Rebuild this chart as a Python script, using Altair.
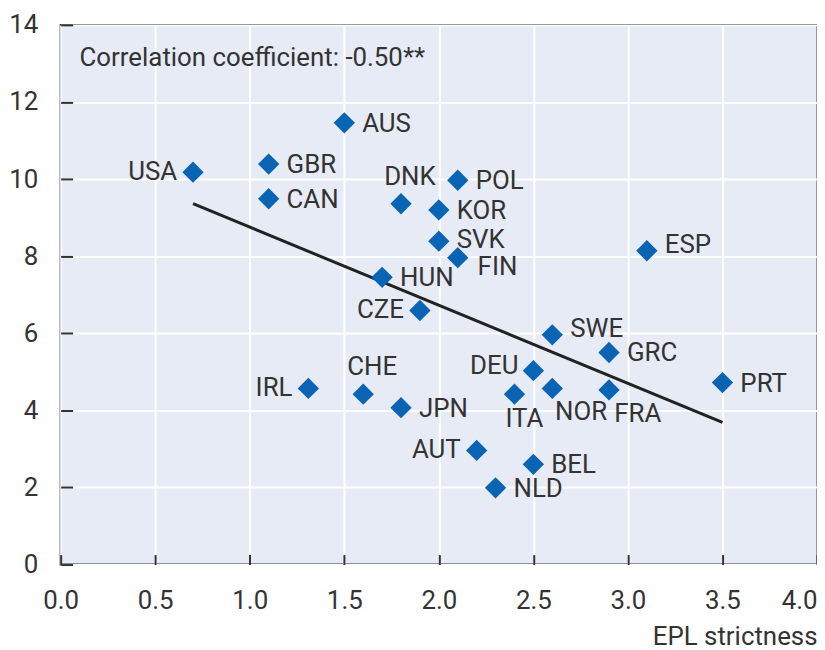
import altair as alt
import pandas as pd

# ---- data ----
COUNTRIES = ["USA", "GBR", "CAN", "AUS", "DNK", "POL", "KOR", "SVK", "FIN", "ESP",
             "HUN", "CZE", "SWE", "GRC", "DEU", "ITA", "NOR", "FRA", "PRT", "IRL",
             "CHE", "JPN", "AUT", "BEL", "NLD"]
EPL = [0.70, 1.10, 1.10, 1.50, 1.80, 2.10, 2.00, 2.00, 2.10, 3.10,
       1.70, 1.90, 2.60, 2.90, 2.50, 2.40, 2.60, 2.90, 3.50, 1.31,
       1.60, 1.80, 2.20, 2.50, 2.30]
VALUE = [10.18, 10.39, 9.49, 11.46, 9.36, 9.97, 9.20, 8.39, 7.96, 8.14,
         7.45, 6.59, 5.96, 5.50, 5.03, 4.42, 4.57, 4.53, 4.72, 4.57,
         4.42, 4.07, 2.96, 2.60, 1.99]
# label placement around each marker
PLACEMENT = {
    "USA": "left", "GBR": "right", "CAN": "right", "AUS": "right", "DNK": "above",
    "POL": "right", "KOR": "right", "SVK": "right_up_small", "FIN": "right_down",
    "ESP": "right_up", "HUN": "right", "CZE": "left", "SWE": "right_up", "GRC": "right",
    "DEU": "left_up", "ITA": "below", "NOR": "below_right", "FRA": "below_right",
    "PRT": "right", "IRL": "left", "CHE": "above", "JPN": "right", "AUT": "left",
    "BEL": "right", "NLD": "right",
}
FIT_X = [0.7, 3.5]
FIT_Y = [9.36, 3.69]
X_TICKS = [0.0, 0.5, 1.0, 1.5, 2.0, 2.5, 3.0, 3.5, 4.0]
Y_TICKS = [0, 2, 4, 6, 8, 10, 12, 14]
NOTE = "Correlation coefficient: -0.50**"
X_TITLE = "EPL strictness"

df = pd.DataFrame({"country": COUNTRIES, "epl": EPL, "value": VALUE})
df["place"] = df["country"].map(PLACEMENT)
fit = pd.DataFrame({"epl": FIT_X, "value": FIT_Y})

FONT = "Roboto, Liberation Sans, sans-serif"
FS = 26
TXT = "#333333"
BLUE = "#0a64b4"

xs = alt.Scale(domain=[0, 4], nice=False, zero=False)
ys = alt.Scale(domain=[0, 14], nice=False, zero=False)

main_x = alt.Axis(values=X_TICKS, format=".1f", ticks=False, tickSize=0, domain=False,
                  grid=True, gridColor="white", gridWidth=2,
                  labelFont=FONT, labelFontSize=FS, labelColor=TXT, labelPadding=23,
                  labelAlign={"condition": {"test": "datum.value >= 4", "value": "right"},
                              "value": "center"},
                  title=X_TITLE, titleFont=FONT, titleFontSize=FS, titleFontWeight="normal",
                  titleColor=TXT, titleAnchor="end", titleAlign="right", titlePadding=10)
main_y = alt.Axis(values=Y_TICKS, ticks=False, tickSize=0, domain=False,
                  grid=True, gridColor="white", gridWidth=2,
                  labelFont=FONT, labelFontSize=FS, labelColor=TXT, labelPadding=23,
                  title=None)
tick_x = alt.Axis(orient="bottom", offset=-10, values=X_TICKS, tickSize=10, tickWidth=2,
                  tickColor="#333333", labels=False, domain=False, grid=False, title=None)
tick_y = alt.Axis(orient="left", offset=-12, values=Y_TICKS, tickSize=12, tickWidth=2,
                  tickColor="#333333", labels=False, domain=False, grid=False, title=None)

base = alt.Chart(df)

points = base.mark_point(shape="diamond", filled=True, size=460, color=BLUE, opacity=1).encode(
    x=alt.X("epl:Q", scale=xs, axis=main_x),
    y=alt.Y("value:Q", scale=ys, axis=main_y),
)

ticks_layer = base.mark_point(opacity=0).encode(
    x=alt.X("epl:Q", scale=xs, axis=tick_x),
    y=alt.Y("value:Q", scale=ys, axis=tick_y),
)

line = alt.Chart(fit).mark_line(color="#222222", strokeWidth=3).encode(
    x=alt.X("epl:Q", scale=xs, axis=None),
    y=alt.Y("value:Q", scale=ys, axis=None),
)

# offsets of each placement group: (align, dx, dy)
OFFSETS = {
    "right": ("left", 18, 1),
    "right_up_small": ("left", 18, -1),
    "right_up": ("left", 18, -6),
    "right_down": ("left", 20, 9),
    "left": ("right", -16, 0),
    "left_up": ("right", -15, -5),
    "above": ("center", 9, -27),
    "below": ("center", 10, 25),
    "below_right": ("center", 29, 24),
}

label_layers = []
for place, (align, dx, dy) in OFFSETS.items():
    label_layers.append(
        base.transform_filter(alt.datum.place == place)
        .mark_text(align=align, baseline="middle", dx=dx, dy=dy, font=FONT,
                   fontSize=FS, color=TXT)
        .encode(
            x=alt.X("epl:Q", scale=xs, axis=None),
            y=alt.Y("value:Q", scale=ys, axis=None),
            text="country:N",
        )
    )

note = alt.Chart(pd.DataFrame({"t": [NOTE]})).mark_text(
    align="left", baseline="middle", font=FONT, fontSize=FS, color=TXT
).encode(x=alt.value(19), y=alt.value(33), text="t:N")

chart = (
    alt.layer(line, points, *label_layers, note, ticks_layer)
    .resolve_axis(x="independent", y="independent")
    .properties(
        width=761,
        height=543,
        autosize=alt.AutoSizeParams(type="none"),
        padding={"left": 53, "top": 15, "right": 0, "bottom": 84},
        background="white",
    )
    .configure_view(fill="#e6ebf6", stroke="#333333", strokeWidth=2)
)

chart.save("out.html", embed_options={"renderer": "svg", "actions": False})
